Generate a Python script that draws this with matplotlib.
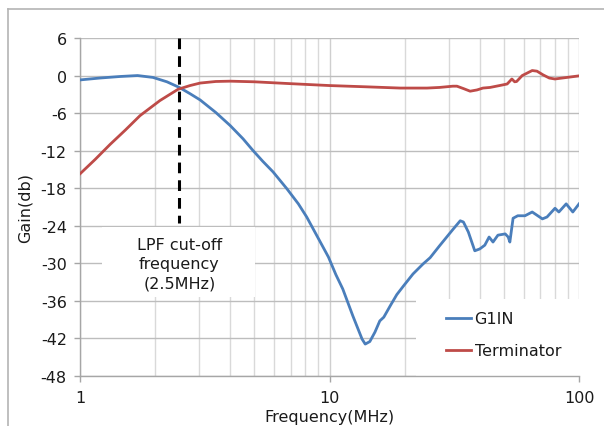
import numpy as np
import matplotlib
matplotlib.use('Agg')
import matplotlib.pyplot as plt
from matplotlib.patches import Rectangle
from matplotlib.lines import Line2D

# Gain of the G1IN input vs. a terminated reference, read in dB
g1in_freq = [1.0, 1.2, 1.45, 1.7, 1.96, 2.23, 2.5, 2.76, 3.03, 3.5, 4.0, 4.5, 4.94,
             5.4, 5.94, 6.75, 7.5, 8.1, 8.9, 9.9, 10.6, 11.3, 12.4, 13.5, 13.9, 14.5,
             15.2, 15.9, 16.5, 17.5, 18.6, 19.8, 21.6, 23.7, 25.3, 27.6, 31.2, 33.4,
             34.4, 36.0, 38.2, 40.0, 41.9, 43.6, 45.2, 47.3, 50.6, 52.0, 52.8, 54.4,
             56.8, 60.7, 64.9, 71.3, 74.4, 80.1, 83.0, 88.8, 94.4, 100.0]
g1in_gain = [-0.7, -0.4, -0.15, 0.0, -0.3, -1.0, -1.9, -2.9, -3.9, -5.9, -8.0, -10.1, -12.0,
             -13.7, -15.4, -18.1, -20.5, -22.6, -25.6, -29.0, -31.8, -34.1, -38.4, -42.1, -42.9, -42.5,
             -41.0, -39.2, -38.6, -36.8, -35.0, -33.6, -31.7, -30.1, -29.1, -27.2, -24.6, -23.2,
             -23.4, -25.0, -28.0, -27.7, -27.1, -25.8, -26.6, -25.5, -25.3, -25.8, -26.6, -22.8,
             -22.4, -22.4, -21.8, -22.9, -22.6, -21.2, -21.8, -20.5, -21.8, -20.5]

term_freq = [1.0, 1.15, 1.32, 1.52, 1.74, 2.09, 2.47, 2.76, 3.03, 3.5, 4.0, 5.0, 7.0, 10.0,
             14.0, 19.2, 24.6, 27.6, 31.2, 32.4, 34.5, 36.6, 39.0, 41.2, 44.0, 48.0,
             51.5, 53.8, 55.2, 56.2, 59.2, 64.9, 67.8, 71.8, 76.0, 80.0, 89.5, 100.0]
term_gain = [-15.7, -13.4, -11.0, -8.7, -6.4, -4.0, -2.2, -1.6, -1.2, -0.95, -0.9, -1.0, -1.3, -1.6,
             -1.8, -2.0, -2.0, -1.9, -1.7, -1.7, -2.1, -2.5, -2.3, -2.0, -1.9, -1.6,
             -1.35, -0.55, -1.0, -0.95, 0.0, 0.8, 0.7, 0.1, -0.4, -0.55, -0.3, -0.05]

cutoff = 2.5
yticks = [6, 0, -6, -12, -18, -24, -30, -36, -42, -48]
xticks = [1, 10, 100]

plt.rcParams['font.family'] = 'DejaVu Sans'
plt.rcParams['font.size'] = 11.5

fig = plt.figure(figsize=(6.04, 4.27), dpi=100)
ax = fig.add_axes([0.1325, 0.1171, 0.8262, 0.7916])

# outer chart frame (left and top edges only show)
fig.add_artist(Line2D([8/604, 8/604], [0, 1 - 10/427], color='#b4b4b4', lw=1.2, transform=fig.transFigure))
fig.add_artist(Line2D([8/604, 1], [1 - 10/427, 1 - 10/427], color='#b4b4b4', lw=1.2, transform=fig.transFigure))

ax.set_xscale('log')
ax.set_xlim(1, 100)
ax.set_ylim(-48, 6)
ax.set_yticks(yticks)
ax.set_yticklabels([str(v) for v in yticks])
ax.set_xticks(xticks)
ax.set_xticklabels([str(v) for v in xticks])
ax.xaxis.set_minor_locator(matplotlib.ticker.LogLocator(base=10, subs=np.arange(2, 10)))
ax.xaxis.set_minor_formatter(matplotlib.ticker.NullFormatter())

ax.grid(True, which='major', axis='y', color='#bdbdbd', lw=1.0)
ax.grid(True, which='major', axis='x', color='#cfcfcf', lw=1.0)
ax.grid(True, which='minor', axis='x', color='#d9d9d9', lw=1.0)
ax.set_axisbelow(True)

for s in ['top', 'right']:
    ax.spines[s].set_visible(False)
for s in ['left', 'bottom']:
    ax.spines[s].set_color('#a6a6a6')
    ax.spines[s].set_linewidth(1.0)

ax.tick_params(axis='y', which='major', length=4.5, width=1, color='#a6a6a6', pad=5, labelcolor='#1a1a1a')
ax.tick_params(axis='x', which='major', length=4, width=1, color='#a6a6a6', pad=6, labelcolor='#1a1a1a')
ax.tick_params(axis='x', which='minor', length=0)

ax.plot(g1in_freq, g1in_gain, color='#4a7ebb', lw=2.0, solid_joinstyle='round', zorder=4, label='G1IN')
ax.plot(term_freq, term_gain, color='#be4b48', lw=2.0, solid_joinstyle='round', zorder=4, label='Terminator')

# cut-off marker and its label
ax.plot([cutoff, cutoff], [6, -23.6], color='black', lw=2.2, dashes=(3.5, 2.3), zorder=3)
ax.add_patch(Rectangle((0.044, 0.234), 0.307, 0.207, transform=ax.transAxes,
                       facecolor='white', edgecolor='none', zorder=2))
ax.text(cutoff, -30.1, 'LPF cut-off\nfrequency\n(2.5MHz)', ha='center', va='center',
        linespacing=1.35, color='#1a1a1a', zorder=3)

# legend area
ax.add_patch(Rectangle((0.673, 0.0), 0.327, 0.228, transform=ax.transAxes,
                       facecolor='white', edgecolor='none', zorder=2))
leg = ax.legend(loc='center left', bbox_to_anchor=(0.717, 0.122), frameon=False,
                borderpad=0, handlelength=1.6, handletextpad=0.2, labelspacing=1.05)
leg.set_zorder(5)
for t in leg.get_texts():
    t.set_color('#1a1a1a')

ax.set_ylabel('Gain(db)', color='#1a1a1a')
ax.yaxis.set_label_coords(-0.094, 0.5)
ax.set_xlabel('Frequency(MHz)', color='#1a1a1a')
ax.xaxis.set_label_coords(0.5, -0.098)

fig.savefig('out.png', dpi=100)
